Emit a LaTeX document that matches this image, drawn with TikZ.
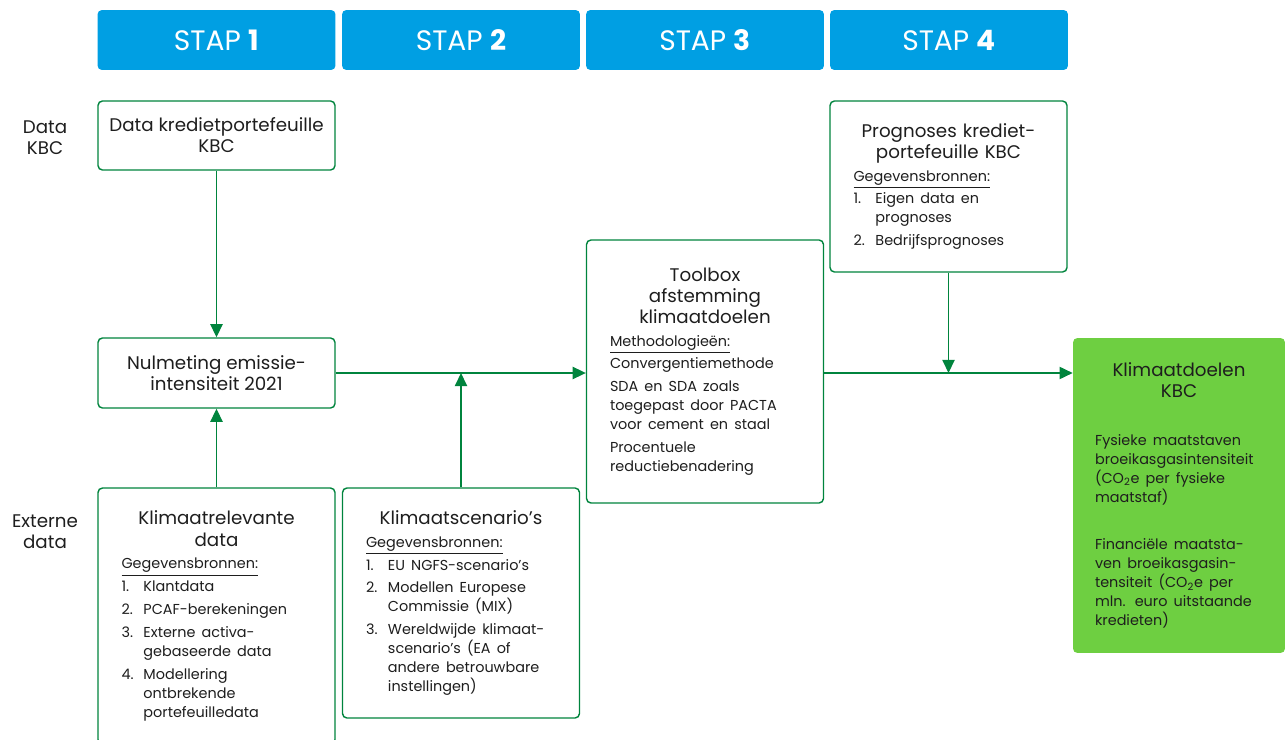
\documentclass[tikz,border=0pt]{standalone}
\usepackage{fontspec}
\setmainfont{Poppins}
\usepackage{xcolor}
\usetikzlibrary{arrows.meta,positioning}
\definecolor{kbcgroen}{RGB}{0,132,61}
\definecolor{kbcblauw}{RGB}{0,159,227}
\definecolor{doelgroen}{RGB}{110,207,65}
\definecolor{tekst}{RGB}{30,30,30}
\newcommand\titel{\fontsize{10.4}{12}\selectfont}
\newcommand\klein{\fontsize{8.2}{10.8}\selectfont}
\newcommand\bron[2]{\par\hangindent=12.5pt\hangafter=1\makebox[12.5pt][l]{#1}#2}

\begin{document}
\begin{tikzpicture}[
        x=0.02cm, y=-0.02cm, font=\titel, text=tekst,
        stapbox/.style={rectangle, fill=kbcblauw, rounded corners=2.5pt, minimum width=4.76cm, minimum height=1.2cm, text=white, font=\fontsize{16}{18}\selectfont},
        databox/.style={rectangle, draw=kbcgroen, line width=0.8pt, fill=white, rounded corners=2.5pt, minimum width=4.74cm, align=center},
        bronbox/.style={databox, text width=3.8cm, align=left, execute at begin node={\setlength{\parskip}{2.2pt}}},
        doelbox/.style={rectangle, fill=doelgroen, rounded corners=2.5pt, minimum width=4.24cm, minimum height=6.3cm, text width=3.36cm, align=left, execute at begin node={\setlength{\parskip}{2.2pt}}},
        zijlabel/.style={align=center},
        pijl/.style={-{Triangle[length=7.5pt,width=7pt]}, draw=kbcgroen, line width=0.8pt}
    ]
        \useasboundingbox (0,0) rectangle (1285,740);
        \node[stapbox] (stap1) at (216.5,40) {STAP \textbf{1}};
        \node[stapbox] (stap2) at (461,40) {STAP \textbf{2}};
        \node[stapbox] (stap3) at (705,40) {STAP \textbf{3}};
        \node[stapbox] (stap4) at (949,40) {STAP \textbf{4}};
        \node[zijlabel] (lbldata) at (45,138) {Data\\KBC};
        \node[zijlabel] (lblextern) at (45,532) {Externe\\data};
        \node[databox, minimum height=1.38cm] (data) at (216.5,135.5) {Data kredietportefeuille\\KBC};
        \node[databox, minimum height=1.4cm] (nulm) at (216.5,373) {Nulmeting emissie-\\intensiteit 2021};
        \node[bronbox, minimum height=5.12cm] (klimrel) at (216.5,616) {%
            {\centering\titel Klimaatrelevante\\data\par}
            \klein\underline{Gegevensbronnen:}
            \bron{1.}{Klantdata}
            \bron{2.}{PCAF-berekeningen}
            \bron{3.}{Externe activa-\newline gebaseerde data}
            \bron{4.}{Modellering\newline ontbrekende\newline portefeuilledata}\par};
        \node[bronbox, minimum height=4.6cm] (klimscen) at (461,603) {%
            {\centering\titel Klimaatscenario’s\par}
            \klein\underline{Gegevensbronnen:}
            \bron{1.}{EU NGFS-scenario’s}
            \bron{2.}{Modellen Europese\newline Commissie (MIX)}
            \bron{3.}{Wereldwijde klimaat-\newline scenario’s (EA of\newline andere betrouwbare\newline instellingen)}\par};
        \node[bronbox, minimum height=5.26cm] (toolbox) at (705,371.5) {%
            {\centering\titel Toolbox\\afstemming\\klimaatdoelen\par}
            \klein\underline{Methodologieën:}\par
            Convergentiemethode\par
            SDA en SDA zoals\newline toegepast door PACTA\newline voor cement en staal\par
            Procentuele\newline reductiebenadering\par};
        \node[bronbox, minimum height=3.42cm] (progn) at (948.5,186.5) {%
            {\centering\titel Prognoses krediet-\\portefeuille KBC\par}
            \klein\underline{Gegevensbronnen:}
            \bron{1.}{Eigen data en\newline prognoses}
            \bron{2.}{Bedrijfsprognoses}\par};
        \node[doelbox] (doelen) at (1179,495.5) {%
            {\centering\titel Klimaatdoelen\\KBC\par}
            \vspace{14pt}\klein
            Fysieke maatstaven\newline broeikasgasintensiteit\newline (CO\textsubscript{2}e per fysieke\newline maatstaf)\par
            \vspace{14pt}
            Financiële maatsta-\newline ven broeikasgasin-\newline tensiteit (CO\textsubscript{2}e per\newline mln. euro uitstaande\newline kredieten)\par};
        \draw[pijl] (data) -- (nulm);
        \draw[pijl] (klimrel) -- (nulm);
        \draw[pijl] (nulm.east) -- (nulm.east -| toolbox.west);
        \draw[pijl] (klimscen.north) -- (klimscen.north |- nulm.east);
        \draw[pijl] (nulm.east -| toolbox.east) -- (nulm.east -| doelen.west);
        \draw[pijl] (progn.south) -- (progn.south |- nulm.east);
    \end{tikzpicture}
\end{document}
